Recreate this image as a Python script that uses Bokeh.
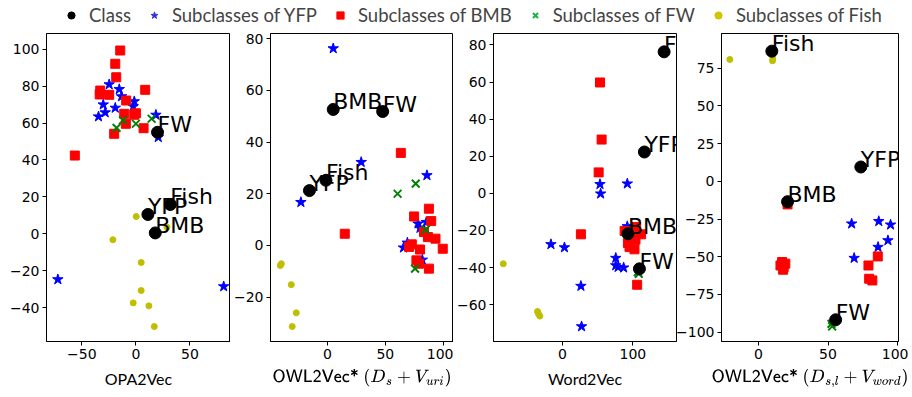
from bokeh.plotting import figure
from bokeh.models import (ColumnDataSource, LabelSet, FixedTicker, Legend,
                          LegendItem, Range1d, TeX)
from bokeh.layouts import column, row
from bokeh.core.properties import value
from bokeh.embed import file_html
from bokeh.resources import INLINE

class_names = ["YFP", "BMB", "FW", "Fish"]

# ---- Panel 1: OPA2Vec ----
opa_class_x = [11.1, 17.9, 20.0, 31.8]
opa_class_y = [10.5, 0.5, 55.0, 15.9]
opa_yfp_x = [-24.7, -15.4, -30.2, -28.4, -34.6, -19.1, -13.3, -1.5, -2.5, 18.5, 20.7, -72.2, 81.2]
opa_yfp_y = [80.9, 78.3, 70.0, 65.7, 63.5, 68.2, 74.4, 71.7, 69.0, 64.4, 52.3, -24.7, -28.5]
opa_bmb_x = [-14.5, -19.1, -18.2, -33.0, -33.5, -24.7, 8.6, -9.0, -10.8, -9.3, 0.0, -1.5, 7.1, -20.1, -56.5]
opa_bmb_y = [99.3, 92.1, 84.8, 77.6, 75.5, 75.3, 78.0, 72.2, 65.0, 59.6, 65.3, 64.5, 57.2, 54.2, 42.4]
opa_fw_x = [-17.9, -12.0, 0.0, 14.5]
opa_fw_y = [57.4, 61.5, 59.6, 62.3]
opa_fish_x = [0.3, 28.7, -21.3, 4.9, 4.9, -2.5, 12.0, 17.0]
opa_fish_y = [9.4, 3.6, -3.2, -15.5, -30.7, -37.4, -39.0, -50.2]

# ---- Panel 2: OWL2Vec* (Ds + Vuri) ----
uri_class_x = [-15.7, 4.9, 47.7, -1.4]
uri_class_y = [21.2, 52.6, 51.8, 25.2]
uri_yfp_x = [4.9, 29.1, -23.1, 86.0, 78.3, 80.0, 69.1, 65.7, 82.0, 85.5]
uri_yfp_y = [76.2, 32.2, 16.7, 27.1, 8.4, 6.7, 1.0, -0.9, -5.6, 9.0]
uri_bmb_x = [63.4, 14.9, 74.9, 87.7, 89.7, 83.4, 86.9, 93.4, 99.7, 80.0, 72.9, 70.6, 76.9, 79.1, 87.7]
uri_bmb_y = [35.8, 4.5, 11.2, 14.2, 9.4, 5.2, 3.2, 2.6, -1.3, -1.6, 0.4, -0.6, -5.8, -7.1, -9.0]
uri_fw_x = [60.6, 76.3, 84.9, 75.7]
uri_fw_y = [20.0, 23.9, 6.1, -9.0]
uri_fish_x = [-40.9, -40.0, -31.4, -27.1, -30.6]
uri_fish_y = [-7.8, -7.1, -15.2, -26.1, -31.4]

# ---- Panel 3: Word2Vec ----
w2v_class_x = [116.4, 93.0, 109.3, 144.4]
w2v_class_y = [22.3, -21.8, -40.7, 76.3]
w2v_yfp_x = [92.1, 53.3, 54.2, -16.4, 2.8, 75.7, 75.7, 79.0, 86.9, 26.2, 27.1, 92.1]
w2v_yfp_y = [5.2, 4.9, -0.2, -27.5, -29.2, -34.9, -38.9, -39.8, -40.1, -50.0, -71.8, -17.8]
w2v_bmb_x = [53.3, 55.6, 51.4, 26.2, 88.3, 104.7, 111.7, 93.0, 95.3, 103.7, 102.3, 106.1, 97.7]
w2v_bmb_y = [59.8, 29.0, 11.3, -22.1, -20.3, -18.2, -22.1, -26.8, -29.0, -25.0, -30.2, -49.3, -23.6]
w2v_fw_x = [107.0, 108.4]
w2v_fw_y = [-42.5, -43.4]
w2v_fish_x = [-84.1, -35.5, -34.1, -32.2]
w2v_fish_y = [-38.0, -63.7, -65.0, -66.2]

# ---- Panel 4: OWL2Vec* (Ds,l + Vword) ----
wrd_class_x = [73.6, 20.9, 55.5, 9.6]
wrd_class_y = [9.5, -13.5, -91.8, 86.3]
wrd_yfp_x = [67.0, 68.8, 86.5, 95.0, 93.1, 86.0]
wrd_yfp_y = [-28.1, -50.9, -26.5, -28.8, -39.2, -43.6]
wrd_bmb_x = [17.0, 18.1, 15.8, 19.3, 17.7, 79.1, 85.8, 79.6, 81.9, 20.9]
wrd_bmb_y = [-53.5, -56.9, -55.8, -54.6, -58.6, -55.8, -49.8, -64.6, -65.7, -15.3]
wrd_fw_x = [53.0, 52.5]
wrd_fw_y = [-96.2, -94.5]
wrd_fish_x = [-20.6, 10.1, 10.3]
wrd_fish_y = [80.8, 79.9, 81.5]

x_labels = ["OPA2Vec",
            TeX(text=r"\textsf{OWL2Vec*}\ (D_s + V_{uri})", inline=True),
            "Word2Vec",
            TeX(text=r"\textsf{OWL2Vec*}\ (D_{s,l} + V_{word})", inline=True)]
x_ranges = [(-82.7, 87.5), (-49.4, 109.0), (-98.0, 162.0), (-26.6, 100.7)]
y_ranges = [(-58.3, 108.5), (-37.2, 82.0), (-79.9, 86.2), (-106.2, 98.0)]
x_ticks = [[-50, 0, 50], [-50, 0, 50, 100], [0, 100], [0, 50, 100]]
y_ticks = [[-40, -20, 0, 20, 40, 60, 80, 100], [-20, 0, 20, 40, 60, 80],
           [-60, -40, -20, 0, 20, 40, 60, 80], [-100, -75, -50, -25, 0, 25, 50, 75]]

data = [
    (opa_class_x, opa_class_y, opa_yfp_x, opa_yfp_y, opa_bmb_x, opa_bmb_y, opa_fw_x, opa_fw_y, opa_fish_x, opa_fish_y),
    (uri_class_x, uri_class_y, uri_yfp_x, uri_yfp_y, uri_bmb_x, uri_bmb_y, uri_fw_x, uri_fw_y, uri_fish_x, uri_fish_y),
    (w2v_class_x, w2v_class_y, w2v_yfp_x, w2v_yfp_y, w2v_bmb_x, w2v_bmb_y, w2v_fw_x, w2v_fw_y, w2v_fish_x, w2v_fish_y),
    (wrd_class_x, wrd_class_y, wrd_yfp_x, wrd_yfp_y, wrd_bmb_x, wrd_bmb_y, wrd_fw_x, wrd_fw_y, wrd_fish_x, wrd_fish_y),
]

# frames at x 46-230, 268-453, 490-676, 713-898; y 33-341
borders_left = [46, 38, 37, 40]
borders_right = [0, 0, 30, 10]
frame_widths = [184, 185, 186, 185]
margins = [None, None, None, (0, 0, 0, -33)]

BLUE, RED, GREEN, YEL = "#0000ff", "#ff0000", "#008000", "#bfbf00"

panels = []
for i in range(4):
    cx, cy, yx, yy, bx, by, fx, fy, sx, sy = data[i]
    p = figure(width=borders_left[i] + frame_widths[i] + borders_right[i], height=367,
               x_range=Range1d(*x_ranges[i]), y_range=Range1d(*y_ranges[i]),
               output_backend="svg", toolbar_location=None,
               min_border_left=borders_left[i], min_border_right=borders_right[i],
               min_border_top=3, min_border_bottom=56)
    if margins[i] is not None:
        p.margin = margins[i]
    p.border_fill_alpha = 0
    p.background_fill_color = "white"
    p.grid.visible = False
    p.outline_line_color = "black"
    p.outline_line_alpha = 1
    for ax in (p.xaxis[0], p.yaxis[0]):
        ax.major_tick_out = 4
        ax.major_tick_in = 0
        ax.minor_tick_line_color = None
        ax.axis_line_color = "black"
        ax.major_tick_line_color = "black"
        ax.major_label_text_color = "black"
        ax.major_label_text_font = "DejaVu Sans"
        ax.major_label_text_font_size = "14px"
        ax.major_label_standoff = 3
    p.xaxis.ticker = FixedTicker(ticks=x_ticks[i])
    p.yaxis.ticker = FixedTicker(ticks=y_ticks[i])
    p.xaxis.axis_label = x_labels[i]
    p.xaxis.axis_label_text_font = "Lato"
    p.xaxis.axis_label_text_font_size = "16px"
    p.xaxis.axis_label_text_font_style = "normal"
    p.xaxis.axis_label_text_color = "black"
    p.xaxis.axis_label_standoff = 7

    p.scatter(yx, yy, marker="star", size=11, color=BLUE)
    p.scatter(bx, by, marker="square", size=9, color=RED)
    p.scatter(fx, fy, marker="x", size=11, line_color=GREEN, line_width=1.9)
    p.scatter(sx, sy, marker="circle", size=6, color=YEL)
    p.scatter(cx, cy, marker="circle", size=12, color="black")
    src = ColumnDataSource(dict(x=cx, y=cy, name=class_names))
    p.add_layout(LabelSet(x="x", y="y", text="name", source=src,
                          text_font=value("DejaVu Sans"), text_font_size="22px",
                          text_align="left", text_baseline="alphabetic",
                          text_color="black"))
    panels.append(p)

# ---- legend strip (its renderers reuse panel-1 data but are hidden) ----
leg = figure(width=904, height=30, x_axis_type=None, y_axis_type=None,
             x_range=Range1d(0, 1), y_range=Range1d(0, 1),
             output_backend="svg", toolbar_location=None,
             min_border=0, outline_line_color=None)
leg.grid.visible = False
r_c = leg.scatter(opa_class_x, opa_class_y, marker="circle", size=10, color="black")
r_y = leg.scatter(opa_yfp_x, opa_yfp_y, marker="star", size=10, color="#3333dd")
r_b = leg.scatter(opa_bmb_x, opa_bmb_y, marker="square", size=9, color=RED)
r_f = leg.scatter(opa_fw_x, opa_fw_y, marker="x", size=13, line_color="#22b14c", line_width=2.2)
r_s = leg.scatter(opa_fish_x, opa_fish_y, marker="circle", size=6, color="#d4c300")
for r in (r_c, r_y, r_b, r_f, r_s):
    r.visible = False
legend = Legend(items=[
    LegendItem(label="Class", renderers=[r_c]),
    LegendItem(label="Subclasses of YFP", renderers=[r_y]),
    LegendItem(label="Subclasses of BMB", renderers=[r_b]),
    LegendItem(label="Subclasses of FW", renderers=[r_f]),
    LegendItem(label="Subclasses of Fish", renderers=[r_s]),
], orientation="horizontal", location=(62, 4), padding=0, margin=0,
    spacing=14, glyph_width=18, glyph_height=22, label_height=22,
    label_standoff=9, label_text_font="Lato", label_text_font_size="18.5px",
    label_text_baseline="middle",
    inactive_fill_alpha=0, click_policy="none",
    border_line_alpha=0, background_fill_alpha=0)
leg.add_layout(legend, "center")

layout = column(leg, row(*panels, spacing=0), spacing=0)
open("out.html", "w").write(file_html(layout, INLINE))
